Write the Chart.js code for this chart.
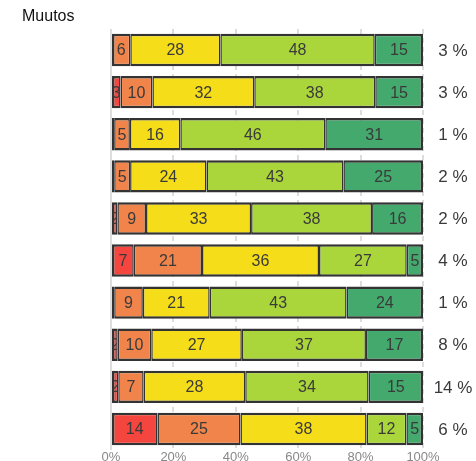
<!DOCTYPE html>
<html>
<head>
<meta charset="utf-8">
<script src="https://cdn.jsdelivr.net/npm/chart.js@4.4.1/dist/chart.umd.min.js"></script>
<style>
  body { margin: 0; background: #fff; }
  #wrap { width: 476px; height: 461px; }
</style>
</head>
<body>
<div id="wrap"><canvas id="myChart" width="476" height="461"></canvas></div>
<script>
// rows top to bottom
const rows = ['1', '2', '3', '4', '5', '6', '7', '8', '9', '10'];
const red        = [0, 3, 1, 1, 2, 7, 1, 2, 2, 14];
const orange     = [6, 10, 5, 5, 9, 21, 9, 10, 7, 25];
const yellow     = [28, 32, 16, 24, 33, 36, 21, 27, 28, 38];
const lightGreen = [48, 38, 46, 43, 38, 27, 43, 37, 34, 12];
const darkGreen  = [15, 15, 31, 25, 16, 5, 24, 17, 15, 5];
const changeLabels = ['3 %', '3 %', '1 %', '2 %', '2 %', '4 %', '1 %', '8 %', '14 %', '6 %'];
const xTicks = [0, 20, 40, 60, 80, 100];

const series = [red, orange, yellow, lightGreen, darkGreen];
const colors = ['#f4463f', '#f1844b', '#f5dd1a', '#aad63b', '#43a96d'];

// bars are drawn as share of the answered part
const totals = rows.map((r, i) => series.reduce((s, arr) => s + arr[i], 0));

function firstIdx(i) { return series.findIndex(a => a[i] > 0); }
function lastIdx(i) { let k = series.length - 1; while (k > 0 && !series[k][i]) k--; return k; }

const datasets = series.map((arr, k) => ({
  label: 'S' + k,
  data: arr.map((v, i) => v / totals[i] * 100),
  raw: arr,
  backgroundColor: colors[k],
  borderColor: '#333333',
  borderWidth: (c) => {
    const i = c.dataIndex;
    return {
      top: 2.5, bottom: 2.5,
      left: k === firstIdx(i) ? 2.5 : 1.5,
      right: k === lastIdx(i) ? 2.5 : 1.5
    };
  },
  borderSkipped: false,
  barPercentage: 0.77,
  categoryPercentage: 1
}));

const labelPlugin = {
  id: 'labels',
  afterDatasetsDraw(chart) {
    const c = chart.ctx;
    c.save();
    c.font = '16px "Liberation Sans", Arial, sans-serif';
    c.fillStyle = '#3a3a3a';
    c.textAlign = 'center';
    c.textBaseline = 'middle';
    chart.data.datasets.forEach((ds, k) => {
      const meta = chart.getDatasetMeta(k);
      meta.data.forEach((bar, i) => {
        const v = ds.raw[i];
        if (!v) return;
        const left = Math.min(bar.x, bar.base), right = Math.max(bar.x, bar.base);
        c.save();
        c.beginPath();
        c.rect(left + 1, bar.y - bar.height / 2, right - left - 2, bar.height);
        c.clip();
        c.fillText(String(v), (left + right) / 2, bar.y + 1);
        c.restore();
      });
    });
    // change labels on the right
    c.font = '17px "Liberation Sans", Arial, sans-serif';
    const meta0 = chart.getDatasetMeta(0);
    meta0.data.forEach((bar, i) => {
      c.fillText(changeLabels[i], 453, bar.y + 1);
    });
    // title
    c.fillStyle = '#111';
    c.textAlign = 'left';
    c.font = '16px "Liberation Sans", Arial, sans-serif';
    c.fillText('Muutos', 22, 17);
    c.restore();
  }
};

const ctx = document.getElementById('myChart').getContext('2d');
const myChart = new Chart(ctx, {
  type: 'bar',
  data: { labels: rows, datasets: datasets },
  options: {
    indexAxis: 'y',
    responsive: false,
    animation: false,
    layout: { padding: { left: 111, right: 53, top: 29, bottom: 0 } },
    plugins: { legend: { display: false }, tooltip: { enabled: false } },
    scales: {
      x: {
        stacked: true,
        min: 0,
        max: 100,
        afterBuildTicks: (axis) => { axis.ticks = xTicks.map(v => ({ value: v })); },
        afterFit: (axis) => { axis.height = 11; },
        ticks: {
          padding: 0,
          color: '#888',
          maxRotation: 0,
          font: { size: 13, family: '"Liberation Sans", Arial, sans-serif' },
          callback: (v) => v + '%'
        },
        grid: { color: '#dddddd', lineWidth: 2, drawTicks: false },
        border: { display: false, dash: (c) => (c.tick && c.tick.value === 0) ? [] : [5, 4] }
      },
      y: {
        stacked: true,
        display: false
      }
    }
  },
  plugins: [labelPlugin]
});
</script>
</body>
</html>
